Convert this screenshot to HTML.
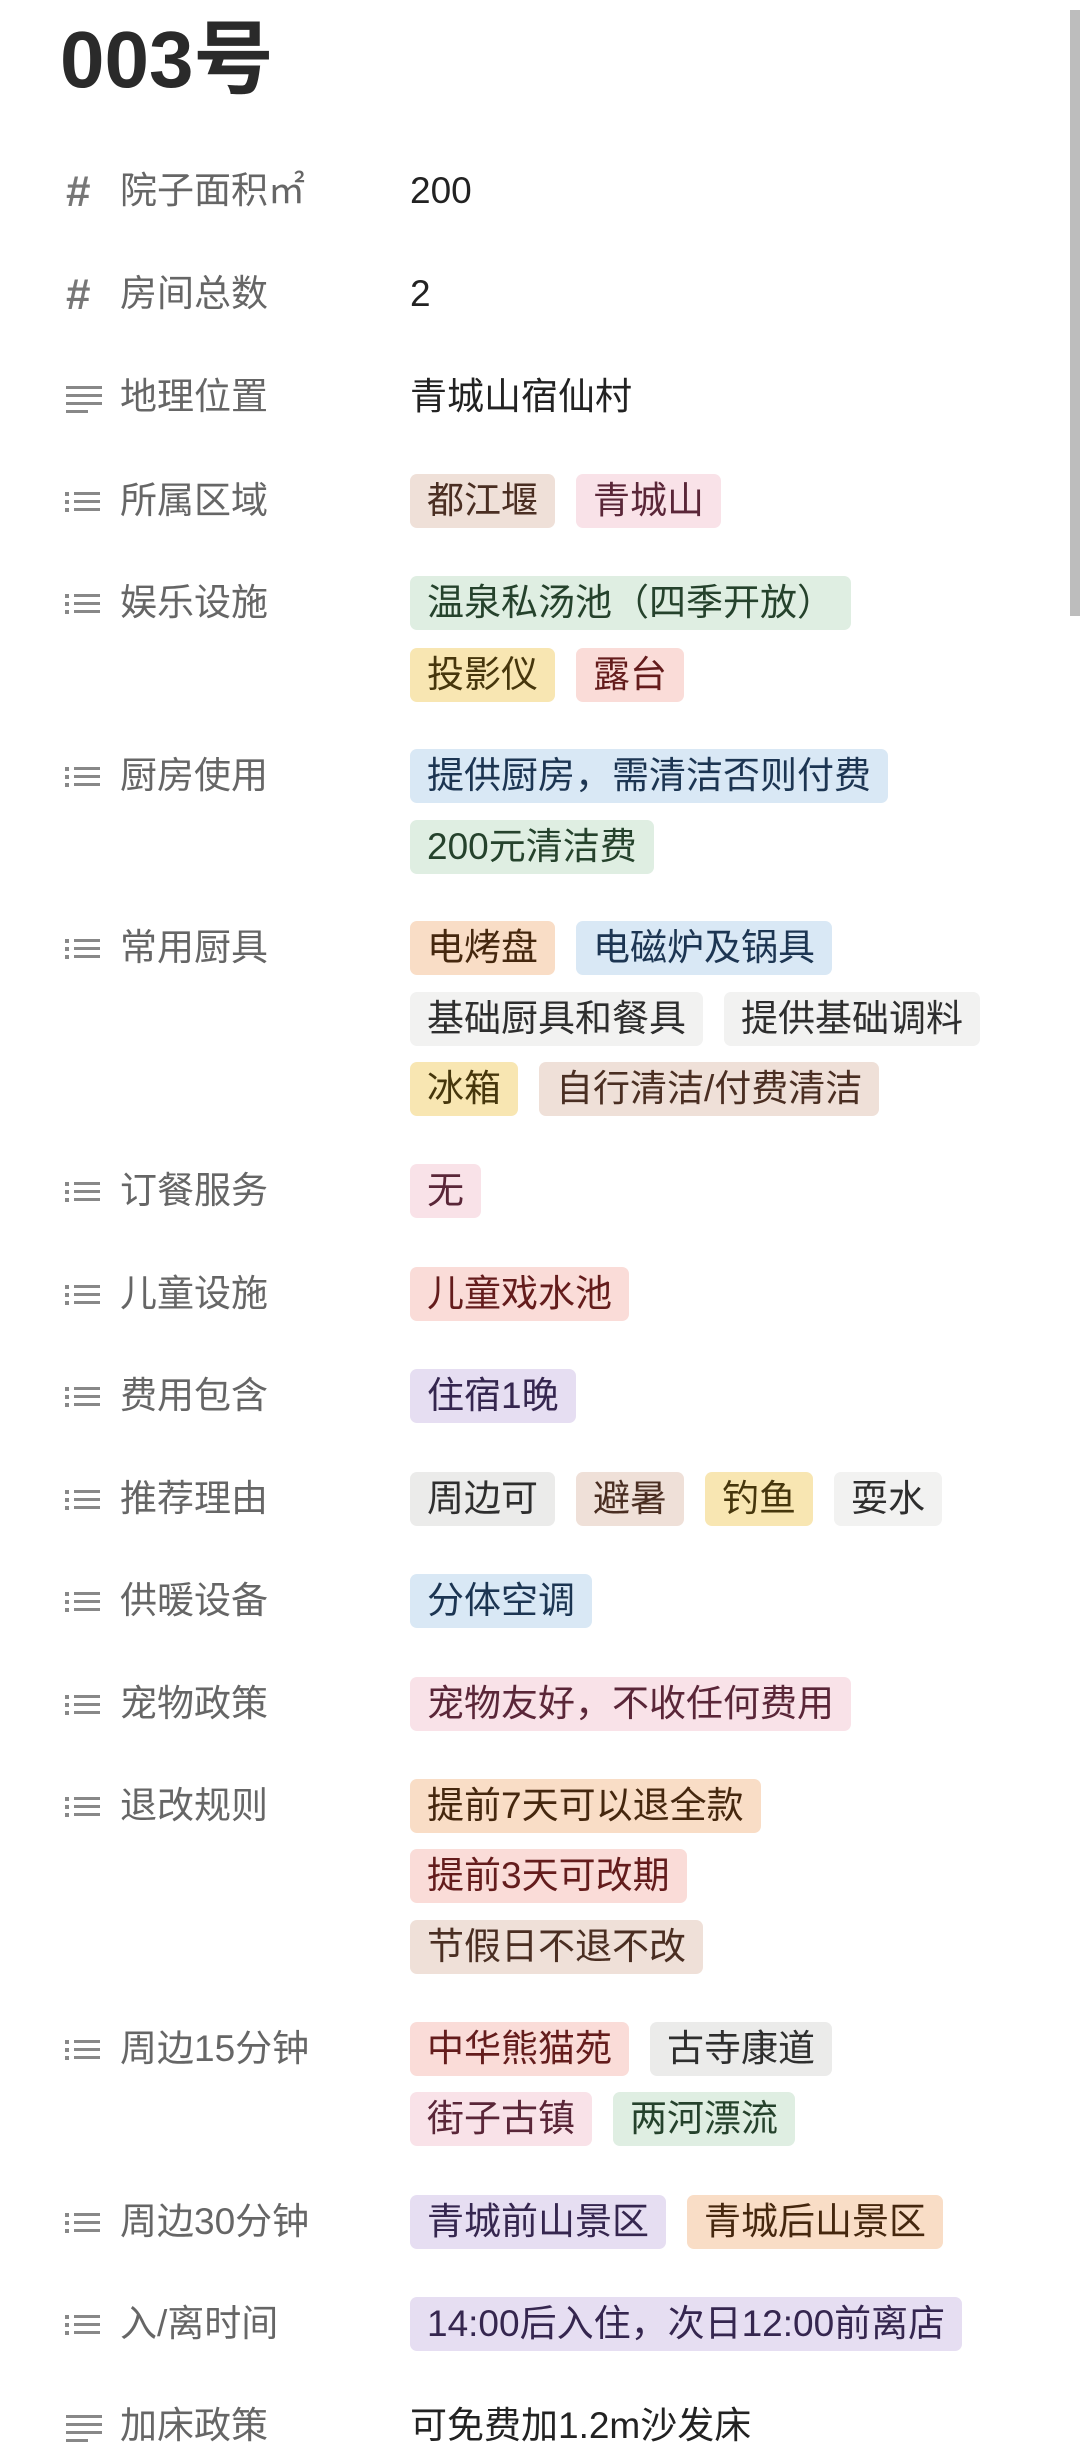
<!DOCTYPE html>
<html><head><meta charset="utf-8">
<style>
body{margin:0;width:1080px;height:2455px;background:#fff;position:relative;overflow:hidden;font-family:"Liberation Sans","Noto Sans CJK SC",sans-serif;}
.t{position:absolute;left:60px;top:12px;font-size:80px;font-weight:bold;color:#2a2a2a;line-height:96px;}
.lab{position:absolute;left:64px;height:54px;line-height:54px;font-size:37px;color:#666;white-space:nowrap;}
.lab svg{position:absolute;left:0;top:13px;}
.lab span{position:absolute;left:56px;}
.line{position:absolute;left:410px;height:54px;white-space:nowrap;}
.tag{display:inline-block;height:54px;line-height:54px;font-size:37px;padding:0 17px;border-radius:7px;margin-right:21px;vertical-align:top;}
.plain{font-size:37px;line-height:54px;color:#222;}
.br{background:#efe0d8;color:#4a2e22}
.pk{background:#f9e2e8;color:#5a2638}
.gr{background:#dfeee2;color:#25422c}
.ye{background:#f8e6b2;color:#46360c}
.rd{background:#fadcd8;color:#641c1c}
.bl{background:#d9e8f5;color:#1c3552}
.or{background:#f9ddc6;color:#45270e}
.gy{background:#ebebea;color:#2e2e2e}
.lg{background:#f2f2f1;color:#2e2e2e}
.pu{background:#e6def2;color:#35264f}
.sb{position:absolute;left:1070px;top:10px;width:10px;height:606px;background:#bdbdbd;}
</style></head><body>
<div class="sb"></div>
<div class="t">003号</div>

<div class="lab" style="top:164px"><svg width="40" height="34" style="top:10px"><text x="2" y="32" font-size="44" font-weight="bold" fill="#777" font-family="Liberation Sans">#</text></svg><span>院子面积㎡</span></div>
<div class="line plain" style="top:164px">200</div>

<div class="lab" style="top:267px"><svg width="40" height="34" style="top:10px"><text x="2" y="32" font-size="44" font-weight="bold" fill="#777" font-family="Liberation Sans">#</text></svg><span>房间总数</span></div>
<div class="line plain" style="top:267px">2</div>

<div class="lab" style="top:370px"><svg width="40" height="32" fill="#888"><rect x="2" y="3" width="36" height="3"/><rect x="2" y="11" width="36" height="3"/><rect x="2" y="19" width="36" height="3"/><rect x="2" y="27" width="22" height="3"/></svg><span>地理位置</span></div>
<div class="line plain" style="top:370px">青城山宿仙村</div>

<div class="lab" style="top:474px"><svg width="40" height="30" fill="#888"><rect x="1" y="5" width="4" height="4"/><rect x="1" y="13" width="4" height="4"/><rect x="1" y="21" width="4" height="4"/><rect x="10" y="5" width="26" height="3"/><rect x="10" y="13" width="26" height="3"/><rect x="10" y="21" width="26" height="3"/></svg><span>所属区域</span></div>
<div class="line" style="top:474px"><span class="tag br">都江堰</span><span class="tag pk">青城山</span></div>

<div class="lab" style="top:576px"><svg width="40" height="30" fill="#888"><rect x="1" y="5" width="4" height="4"/><rect x="1" y="13" width="4" height="4"/><rect x="1" y="21" width="4" height="4"/><rect x="10" y="5" width="26" height="3"/><rect x="10" y="13" width="26" height="3"/><rect x="10" y="21" width="26" height="3"/></svg><span>娱乐设施</span></div>
<div class="line" style="top:576px"><span class="tag gr">温泉私汤池（四季开放）</span></div>
<div class="line" style="top:648px"><span class="tag ye">投影仪</span><span class="tag rd">露台</span></div>

<div class="lab" style="top:749px"><svg width="40" height="30" fill="#888"><rect x="1" y="5" width="4" height="4"/><rect x="1" y="13" width="4" height="4"/><rect x="1" y="21" width="4" height="4"/><rect x="10" y="5" width="26" height="3"/><rect x="10" y="13" width="26" height="3"/><rect x="10" y="21" width="26" height="3"/></svg><span>厨房使用</span></div>
<div class="line" style="top:749px"><span class="tag bl">提供厨房，需清洁否则付费</span></div>
<div class="line" style="top:820px"><span class="tag gr">200元清洁费</span></div>

<div class="lab" style="top:921px"><svg width="40" height="30" fill="#888"><rect x="1" y="5" width="4" height="4"/><rect x="1" y="13" width="4" height="4"/><rect x="1" y="21" width="4" height="4"/><rect x="10" y="5" width="26" height="3"/><rect x="10" y="13" width="26" height="3"/><rect x="10" y="21" width="26" height="3"/></svg><span>常用厨具</span></div>
<div class="line" style="top:921px"><span class="tag or">电烤盘</span><span class="tag bl">电磁炉及锅具</span></div>
<div class="line" style="top:992px"><span class="tag lg">基础厨具和餐具</span><span class="tag lg">提供基础调料</span></div>
<div class="line" style="top:1062px"><span class="tag ye">冰箱</span><span class="tag br">自行清洁/付费清洁</span></div>

<div class="lab" style="top:1164px"><svg width="40" height="30" fill="#888"><rect x="1" y="5" width="4" height="4"/><rect x="1" y="13" width="4" height="4"/><rect x="1" y="21" width="4" height="4"/><rect x="10" y="5" width="26" height="3"/><rect x="10" y="13" width="26" height="3"/><rect x="10" y="21" width="26" height="3"/></svg><span>订餐服务</span></div>
<div class="line" style="top:1164px"><span class="tag pk">无</span></div>

<div class="lab" style="top:1267px"><svg width="40" height="30" fill="#888"><rect x="1" y="5" width="4" height="4"/><rect x="1" y="13" width="4" height="4"/><rect x="1" y="21" width="4" height="4"/><rect x="10" y="5" width="26" height="3"/><rect x="10" y="13" width="26" height="3"/><rect x="10" y="21" width="26" height="3"/></svg><span>儿童设施</span></div>
<div class="line" style="top:1267px"><span class="tag rd">儿童戏水池</span></div>

<div class="lab" style="top:1369px"><svg width="40" height="30" fill="#888"><rect x="1" y="5" width="4" height="4"/><rect x="1" y="13" width="4" height="4"/><rect x="1" y="21" width="4" height="4"/><rect x="10" y="5" width="26" height="3"/><rect x="10" y="13" width="26" height="3"/><rect x="10" y="21" width="26" height="3"/></svg><span>费用包含</span></div>
<div class="line" style="top:1369px"><span class="tag pu">住宿1晚</span></div>

<div class="lab" style="top:1472px"><svg width="40" height="30" fill="#888"><rect x="1" y="5" width="4" height="4"/><rect x="1" y="13" width="4" height="4"/><rect x="1" y="21" width="4" height="4"/><rect x="10" y="5" width="26" height="3"/><rect x="10" y="13" width="26" height="3"/><rect x="10" y="21" width="26" height="3"/></svg><span>推荐理由</span></div>
<div class="line" style="top:1472px"><span class="tag gy">周边可</span><span class="tag br">避暑</span><span class="tag ye">钓鱼</span><span class="tag lg">耍水</span></div>

<div class="lab" style="top:1574px"><svg width="40" height="30" fill="#888"><rect x="1" y="5" width="4" height="4"/><rect x="1" y="13" width="4" height="4"/><rect x="1" y="21" width="4" height="4"/><rect x="10" y="5" width="26" height="3"/><rect x="10" y="13" width="26" height="3"/><rect x="10" y="21" width="26" height="3"/></svg><span>供暖设备</span></div>
<div class="line" style="top:1574px"><span class="tag bl">分体空调</span></div>

<div class="lab" style="top:1677px"><svg width="40" height="30" fill="#888"><rect x="1" y="5" width="4" height="4"/><rect x="1" y="13" width="4" height="4"/><rect x="1" y="21" width="4" height="4"/><rect x="10" y="5" width="26" height="3"/><rect x="10" y="13" width="26" height="3"/><rect x="10" y="21" width="26" height="3"/></svg><span>宠物政策</span></div>
<div class="line" style="top:1677px"><span class="tag pk">宠物友好，不收任何费用</span></div>

<div class="lab" style="top:1779px"><svg width="40" height="30" fill="#888"><rect x="1" y="5" width="4" height="4"/><rect x="1" y="13" width="4" height="4"/><rect x="1" y="21" width="4" height="4"/><rect x="10" y="5" width="26" height="3"/><rect x="10" y="13" width="26" height="3"/><rect x="10" y="21" width="26" height="3"/></svg><span>退改规则</span></div>
<div class="line" style="top:1779px"><span class="tag or">提前7天可以退全款</span></div>
<div class="line" style="top:1849px"><span class="tag rd">提前3天可改期</span></div>
<div class="line" style="top:1920px"><span class="tag br">节假日不退不改</span></div>

<div class="lab" style="top:2022px"><svg width="40" height="30" fill="#888"><rect x="1" y="5" width="4" height="4"/><rect x="1" y="13" width="4" height="4"/><rect x="1" y="21" width="4" height="4"/><rect x="10" y="5" width="26" height="3"/><rect x="10" y="13" width="26" height="3"/><rect x="10" y="21" width="26" height="3"/></svg><span>周边15分钟</span></div>
<div class="line" style="top:2022px"><span class="tag rd">中华熊猫苑</span><span class="tag gy">古寺康道</span></div>
<div class="line" style="top:2092px"><span class="tag pk">街子古镇</span><span class="tag gr">两河漂流</span></div>

<div class="lab" style="top:2195px"><svg width="40" height="30" fill="#888"><rect x="1" y="5" width="4" height="4"/><rect x="1" y="13" width="4" height="4"/><rect x="1" y="21" width="4" height="4"/><rect x="10" y="5" width="26" height="3"/><rect x="10" y="13" width="26" height="3"/><rect x="10" y="21" width="26" height="3"/></svg><span>周边30分钟</span></div>
<div class="line" style="top:2195px"><span class="tag pu">青城前山景区</span><span class="tag or">青城后山景区</span></div>

<div class="lab" style="top:2297px"><svg width="40" height="30" fill="#888"><rect x="1" y="5" width="4" height="4"/><rect x="1" y="13" width="4" height="4"/><rect x="1" y="21" width="4" height="4"/><rect x="10" y="5" width="26" height="3"/><rect x="10" y="13" width="26" height="3"/><rect x="10" y="21" width="26" height="3"/></svg><span>入/离时间</span></div>
<div class="line" style="top:2297px"><span class="tag pu">14:00后入住，次日12:00前离店</span></div>

<div class="lab" style="top:2399px"><svg width="40" height="32" fill="#888"><rect x="2" y="3" width="36" height="3"/><rect x="2" y="11" width="36" height="3"/><rect x="2" y="19" width="36" height="3"/><rect x="2" y="27" width="22" height="3"/></svg><span>加床政策</span></div>
<div class="line plain" style="top:2399px">可免费加1.2m沙发床</div>
</body></html>
